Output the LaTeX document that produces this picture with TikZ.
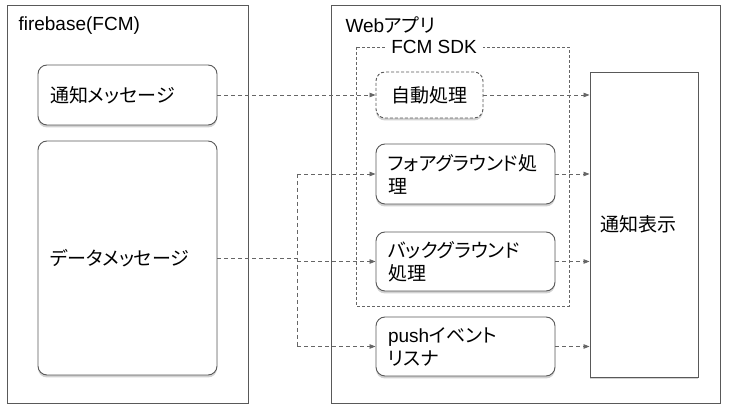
\documentclass[tikz,border=0pt]{standalone}
\usepackage{fontspec}
\setmainfont{Liberation Sans}
\newfontfamily\jp{Noto Sans CJK JP}[RawFeature=+palt]
\usepackage{xcolor}
\usepackage{tikz}
\usetikzlibrary{arrows.meta,shadows}
\definecolor{edgegray}{HTML}{595959}
\definecolor{linkgray}{HTML}{666666}

\begin{document}
\begin{tikzpicture}[x=1pt,y=-1pt,font=\fontsize{19}{23}\selectfont,
    frame/.style={draw=edgegray,line width=0.9pt},
    msgbox/.style={draw=edgegray,line width=0.9pt,fill=white,rounded corners=9pt,
      drop shadow={shadow xshift=0pt,shadow yshift=-2.5pt,opacity=.35},
      inner xsep=12pt,text width=155pt,align=left,minimum height=60pt},
    link/.style={draw=linkgray,line width=0.8pt,dash pattern=on 4pt off 3pt,
      -{Triangle[length=6pt,width=4.5pt]}},
    plainlink/.style={draw=linkgray,line width=0.8pt,dash pattern=on 4pt off 3pt}]
  \useasboundingbox[fill=white] (0,0) rectangle (729,411);
  % outer frames
  \draw[frame] (7,5) rectangle (248,403);
  \node[anchor=west] (fcmtitle) at (15,26) {firebase(FCM)};
  \draw[frame] (331,5) rectangle (720,403);
  \node[anchor=west] (webtitle) at (342,25) {Web{\jp アプリ}};
  % FCM SDK group
  \draw[draw=linkgray,line width=0.8pt,dash pattern=on 3pt off 2pt] (356,47) rectangle (569,306);
  \node[fill=white,inner xsep=6pt,inner ysep=1pt] (sdktitle) at (434,47) {FCM SDK};
  % messages
  \node[msgbox] (notify) at (127.5,95) {\jp 通知メッセージ};
  \node[msgbox,minimum height=234pt] (data) at (127.5,258) {\jp データメッセージ};
  % handlers
  \node[msgbox,dash pattern=on 3pt off 2pt,text width=,align=center,
    inner xsep=4pt,minimum width=107pt,minimum height=46pt] (auto) at (429.5,95) {\jp 自動処理};
  \node[msgbox] (fore) at (465.5,174) {\jp フォアグラウンド処\\理};
  \node[msgbox,minimum height=59pt] (back) at (465.5,261.5) {\jp バックグラウンド\\処理};
  \node[msgbox,minimum height=59pt] (push) at (465.5,346.5) {push{\jp イベント}\\{\jp リスナ}};
  \node[draw=edgegray,line width=0.9pt,fill=white,
    drop shadow={shadow xshift=0pt,shadow yshift=-2.5pt,opacity=.35},
    minimum width=108pt,minimum height=305pt,inner xsep=10pt,text width=88pt,align=left] (show) at (644,224.5) {\jp 通知表示};
  % connectors
  \coordinate (split) at (297,258);
  \draw[link] (notify.east) -- (auto.west);
  \draw[link] (auto.east) -- (show.west |- auto.east);
  \draw[plainlink] (data.east) -- (split);
  \draw[plainlink] (split |- fore.west) -- (split |- push.west);
  \draw[link] (split |- fore.west) -- (fore.west);
  \draw[link] (split |- back.west) -- (back.west);
  \draw[link] (split |- push.west) -- (push.west);
  \draw[link] (fore.east) -- (show.west |- fore.east);
  \draw[link] (back.east) -- (show.west |- back.east);
  \draw[link] (push.east) -- (show.west |- push.east);
\end{tikzpicture}
\end{document}
